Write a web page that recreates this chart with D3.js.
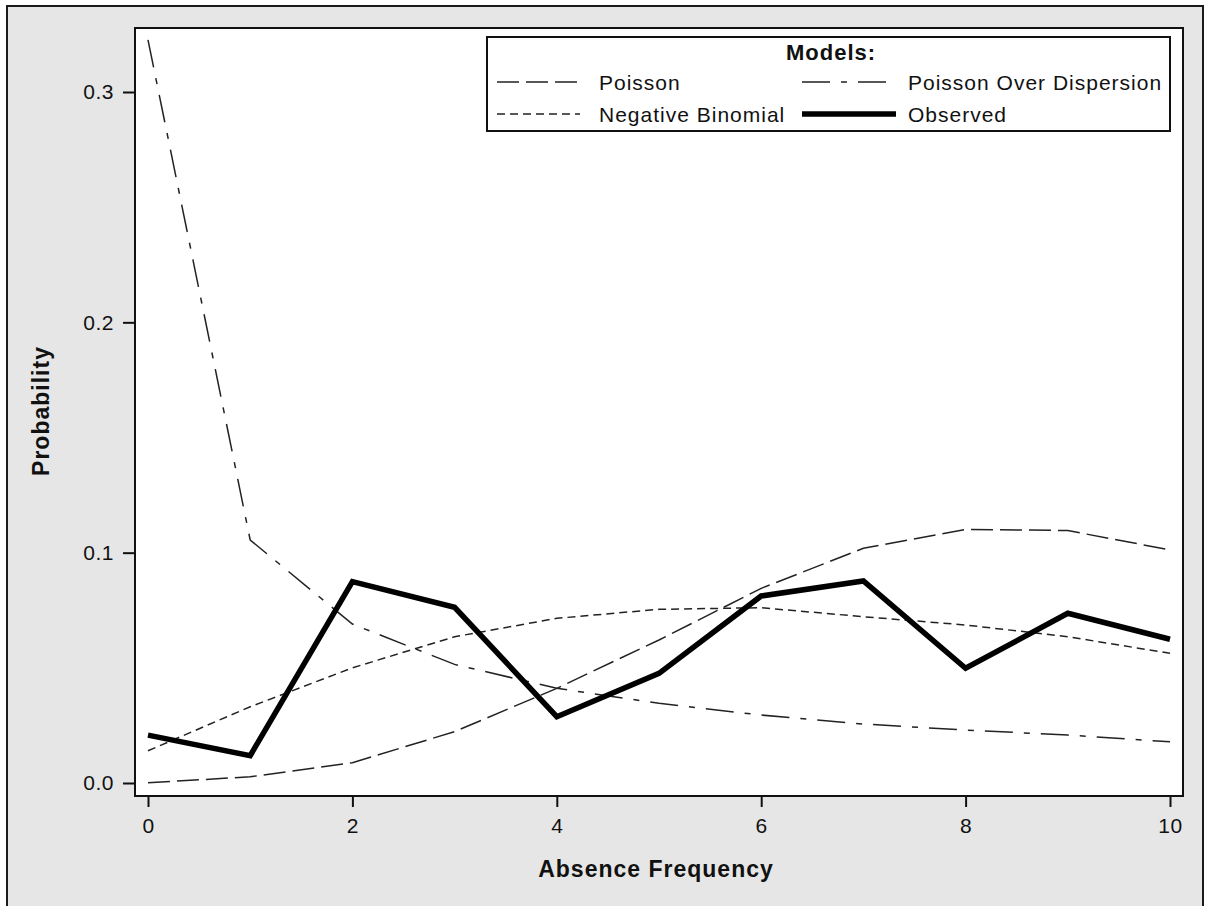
<!DOCTYPE html>
<html>
<head>
<meta charset="utf-8">
<script src="https://cdn.jsdelivr.net/npm/d3@7"></script>
<style>
  html, body { margin: 0; padding: 0; background: #ffffff; }
  svg { display: block; }
  text { font-family: "Liberation Sans", Arial, sans-serif; }
</style>
</head>
<body>
<svg id="chart" width="1206" height="906"></svg>
<script>
// ---- data ----
const absence = [0, 1, 2, 3, 4, 5, 6, 7, 8, 9, 10];
const poisson = [0.0001, 0.0027, 0.0088, 0.0223, 0.0411, 0.0621, 0.0845, 0.1019, 0.1101, 0.1096, 0.1012];
const poissonOverDispersion = [0.3226, 0.1055, 0.0690, 0.0515, 0.0411, 0.0346, 0.0295, 0.0256, 0.0230, 0.0208, 0.0179];
const negativeBinomial = [0.0140, 0.0331, 0.0500, 0.0635, 0.0715, 0.0754, 0.0761, 0.0722, 0.0686, 0.0635, 0.0563];
const observed = [0.0208, 0.0119, 0.0874, 0.0763, 0.0288, 0.0476, 0.0812, 0.0877, 0.0498, 0.0737, 0.0624];
const xTicks = [0, 2, 4, 6, 8, 10];
const yTicks = [0.0, 0.1, 0.2, 0.3];
const legendTitle = "Models:";
const seriesNames = ["Poisson", "Poisson Over Dispersion", "Negative Binomial", "Observed"];

// ---- layout ----
const svg = d3.select("#chart");
const plot = { left: 135, top: 28, right: 1183, bottom: 796 };

const x = d3.scaleLinear().domain([0, 10]).range([148, 1170]);
const y = d3.scaleLinear().domain([0, 0.3]).range([783, 92]);

// outer frame
svg.append("rect")
  .attr("x", 7).attr("y", 6).attr("width", 1196).attr("height", 920)
  .attr("fill", "#e6e6e6").attr("stroke", "#1a1a1a").attr("stroke-width", 2);

// plot area
svg.append("rect")
  .attr("x", plot.left).attr("y", plot.top)
  .attr("width", plot.right - plot.left).attr("height", plot.bottom - plot.top)
  .attr("fill", "#ffffff");

svg.append("clipPath").attr("id", "clip")
  .append("rect")
  .attr("x", plot.left).attr("y", plot.top)
  .attr("width", plot.right - plot.left).attr("height", plot.bottom - plot.top);

// axes
const yAxis = d3.axisLeft(y).tickValues(yTicks).tickFormat(d3.format(".1f"))
  .tickSize(12).tickPadding(9);
const gy = svg.append("g").attr("transform", `translate(${plot.left},0)`).call(yAxis);

const xAxis = d3.axisBottom(x).tickValues(xTicks).tickFormat(d3.format("d"))
  .tickSize(11).tickPadding(11);
const gx = svg.append("g").attr("transform", `translate(0,${plot.bottom})`).call(xAxis);

[gx, gy].forEach(g => {
  g.select(".domain").remove();
  g.selectAll(".tick line").attr("stroke", "#111").attr("stroke-width", 2);
  g.selectAll(".tick text")
    .attr("fill", "#111")
    .style("font-size", "21px")
    .style("letter-spacing", "0.5px")
    .style("font-family", "'Liberation Sans', Arial, sans-serif");
});

// axis titles
svg.append("text")
  .attr("x", 656).attr("y", 877)
  .attr("text-anchor", "middle")
  .style("font-size", "23px").style("font-weight", "bold").style("letter-spacing", "1px")
  .attr("fill", "#111")
  .text("Absence Frequency");

svg.append("text")
  .attr("transform", "translate(49,411) rotate(-90)")
  .attr("text-anchor", "middle")
  .style("font-size", "23px").style("font-weight", "bold").style("letter-spacing", "1px")
  .attr("fill", "#111")
  .text("Probability");

// series
const line = d3.line().x((d, i) => x(absence[i])).y(d => y(d));

const styles = [
  { data: poisson, dash: "22,7", width: 1.5, color: "#222" },
  { data: poissonOverDispersion, dash: "28,11,6,11", width: 1.5, color: "#222" },
  { data: negativeBinomial, dash: "8,5", width: 1.5, color: "#222" },
  { data: observed, dash: null, width: 5.5, color: "#000" }
];

const gl = svg.append("g").attr("clip-path", "url(#clip)");
styles.forEach(s => {
  gl.append("path")
    .datum(s.data)
    .attr("d", line)
    .attr("fill", "none")
    .attr("stroke", s.color)
    .attr("stroke-width", s.width)
    .attr("stroke-linejoin", "miter")
    .attr("stroke-dasharray", s.dash);
});

// plot frame
svg.append("rect")
  .attr("x", plot.left).attr("y", plot.top)
  .attr("width", plot.right - plot.left).attr("height", plot.bottom - plot.top)
  .attr("fill", "none").attr("stroke", "#111").attr("stroke-width", 2);

// legend
const lg = svg.append("g");
lg.append("rect")
  .attr("x", 487).attr("y", 37).attr("width", 683).attr("height", 94)
  .attr("fill", "#fff").attr("stroke", "#111").attr("stroke-width", 2);
lg.append("text")
  .attr("x", 831).attr("y", 60).attr("text-anchor", "middle")
  .style("font-size", "22px").style("font-weight", "bold").style("letter-spacing", "1px")
  .attr("fill", "#111")
  .text(legendTitle);

const legendItems = [
  { name: seriesNames[0], s: styles[0], x1: 497, x2: 580, tx: 599, y: 82 },
  { name: seriesNames[1], s: styles[1], x1: 802, x2: 896, tx: 908, y: 82 },
  { name: seriesNames[2], s: styles[2], x1: 497, x2: 580, tx: 599, y: 114 },
  { name: seriesNames[3], s: styles[3], x1: 802, x2: 896, tx: 908, y: 114 }
];
legendItems.forEach(it => {
  lg.append("line")
    .attr("x1", it.x1).attr("x2", it.x2).attr("y1", it.y).attr("y2", it.y)
    .attr("stroke", it.s.color).attr("stroke-width", it.s.width)
    .attr("stroke-dasharray", it.s.dash);
  lg.append("text")
    .attr("x", it.tx).attr("y", it.y + 7.5)
    .style("font-size", "21px").style("letter-spacing", "1px")
    .attr("fill", "#111")
    .text(it.name);
});
</script>
</body>
</html>
